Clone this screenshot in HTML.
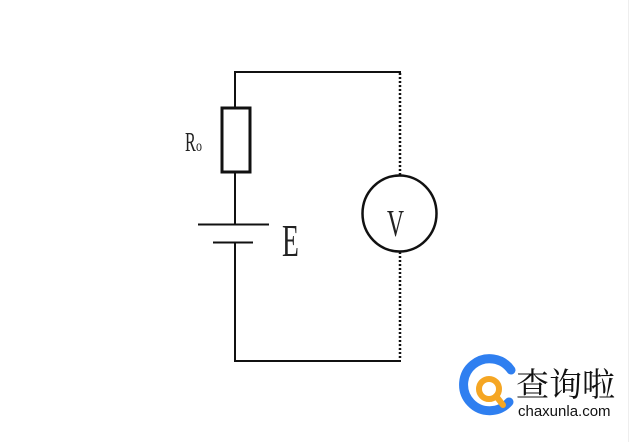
<!DOCTYPE html>
<html><head><meta charset="utf-8"><style>
html,body{margin:0;padding:0;background:#fff;}
</style></head><body>
<svg width="633" height="442" viewBox="0 0 633 442" xmlns="http://www.w3.org/2000/svg" style="display:block">
<rect width="633" height="442" fill="#fff"/>
<line x1="628.5" y1="0" x2="628.5" y2="442" stroke="#eee" stroke-width="1"/>
<g stroke="#111" fill="none">
<polyline points="401,72 235,72 235,107" stroke-width="2"/>
<rect x="222" y="108" width="28" height="64" stroke-width="3"/>
<line x1="235" y1="173" x2="235" y2="224" stroke-width="2"/>
<line x1="198" y1="224.5" x2="269" y2="224.5" stroke-width="2"/>
<line x1="213" y1="242.5" x2="253" y2="242.5" stroke-width="2"/>
<polyline points="235,243 235,361 401,361" stroke-width="2"/>
<line x1="400" y1="73" x2="400" y2="175" stroke-width="2.5" stroke-dasharray="2,2"/>
<line x1="400" y1="252" x2="400" y2="360" stroke-width="2.5" stroke-dasharray="2,2"/>
<ellipse cx="399.5" cy="213.5" rx="37" ry="38" stroke-width="2.5"/>
</g>
<text x="185" y="151" font-family="Liberation Serif, serif" font-size="27" fill="#222" transform="translate(185 0) scale(0.6 1) translate(-185 0)">R</text>
<text x="196" y="151" font-family="Liberation Serif, serif" font-size="16" fill="#222" transform="translate(196 0) scale(0.75 1) translate(-196 0)">o</text>
<text x="282" y="256" font-family="Liberation Serif, serif" font-size="46" fill="#222" transform="translate(282 0) scale(0.6 1) translate(-282 0)">E</text>
<text x="387" y="236" font-family="Liberation Serif, serif" font-size="38" fill="#222" transform="translate(387 0) scale(0.62 1) translate(-387 0)">V</text>
<path d="M 509 402 A 26 26 0 1 1 511 370" stroke="#2f7ff0" stroke-width="9" fill="none" stroke-linecap="round"/>
<circle cx="489" cy="389" r="10" stroke="#f5a623" stroke-width="6" fill="none"/>
<line x1="496" y1="396" x2="503" y2="405" stroke="#f5a623" stroke-width="6" stroke-linecap="round"/>
<text x="516" y="396" font-family="Noto Serif CJK SC, serif" font-size="33" fill="#111">查询啦</text>
<text x="518" y="416" font-family="Liberation Sans, sans-serif" font-size="15" fill="#111">chaxunla.com</text>
</svg>
</body></html>
